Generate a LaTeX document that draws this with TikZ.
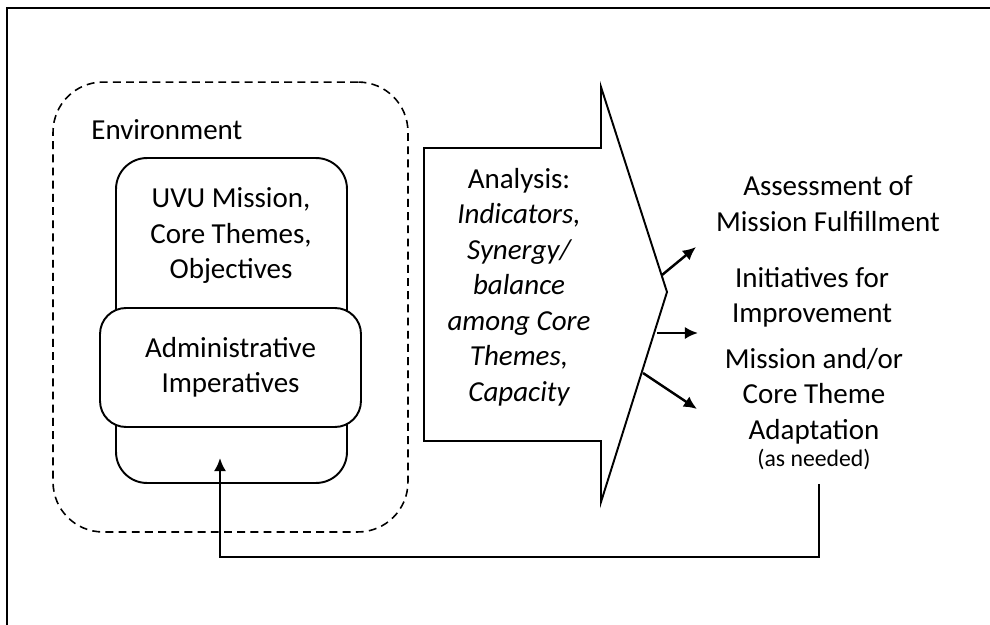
\documentclass[tikz,border=0pt]{standalone}
\usepackage{fontspec}
\setmainfont{Carlito}
\usetikzlibrary{arrows.meta, positioning}

\tikzstyle{frame} = [draw=black, line width=1.6pt]
\tikzstyle{envbox} = [rectangle, rounded corners=1cm, draw=black, dash pattern=on 4.5pt off 3pt, line width=0.9pt, minimum width=7.1cm, minimum height=9cm, inner sep=0pt]
\tikzstyle{corebox} = [rectangle, rounded corners=0.62cm, draw=black, fill=white, line width=1.1pt, minimum width=4.62cm, minimum height=6.5cm, inner sep=0pt]
\tikzstyle{adminbox} = [rectangle, rounded corners=0.52cm, draw=black, fill=white, line width=1.1pt, minimum width=5.22cm, minimum height=2.38cm, inner sep=0pt, align=center]
\tikzstyle{analysis} = [draw=black, fill=white, line width=1.1pt]
\tikzstyle{txt} = [align=center, inner sep=0pt]
\tikzstyle{line} = [draw, line width=1.4pt, -{Latex[length=7.5pt, width=7pt]}]

\begin{document}
\begin{tikzpicture}[x=0.02cm, y=-0.02cm, font=\fontsize{16.5}{20.2}\selectfont]
            \useasboundingbox (0,0) rectangle (990,625);
            % Frame (only top and left edges show)
            \draw [frame] (7,625) -- (7,8) -- (990,8);

            % Left block
            \node (env) [envbox] at (230.5,307) {};
            \node (envtxt) [anchor=west, inner sep=0pt] at (91,130) {Environment};
            \node (uvu) [corebox] at (231.5,320.5) {};
            \node (uvutxt) [txt] at (231,236) {UVU Mission,\\Core Themes,\\Objectives};
            \node (admin) [adminbox] at (230.5,367.5) {Administrative\\Imperatives};

            % Big arrow
            \draw [analysis] (424,148) -- (601,148) -- (601,87) -- (667,292)
                -- (601,502) -- (601,441) -- (424,441) -- cycle;
            \node (ana) [txt] at (519,287) {Analysis:\\\itshape Indicators,\\\itshape Synergy/\\\itshape balance\\\itshape among Core\\\itshape Themes,\\\itshape Capacity};

            % Right column
            \node (assess) [txt] at (828,203.5) {Assessment of\\Mission Fulfillment};
            \node (init) [txt] at (812,297.5) {Initiatives for\\Improvement};
            \node (adapt) [txt, inner ysep=7.9pt] at (814,409) {Mission and/or\\Core Theme\\Adaptation\\[-4.9pt]{\fontsize{13.5}{15}\selectfont (as needed)}};

            % Arrow ends
            \coordinate (out1s) at (662,275);
            \coordinate (out1e) at (696,247);
            \coordinate (out2s) at (657,333);
            \coordinate (out2e) at (698,333);
            \coordinate (out3s) at (643,373);
            \coordinate (out3e) at (697,409);
            \coordinate (fbcorner) at (819,557);
            \coordinate (fbend) at (220,458);

            % Draw lines
            \path [line] (out1s) -- (out1e);
            \path [line] (out2s) -- (out2e);
            \path [line] (out3s) -- (out3e);

            % Feedback
            \path [line] (adapt.south -| fbcorner) -- (fbcorner) -| (fbend);
        \end{tikzpicture}
\end{document}
